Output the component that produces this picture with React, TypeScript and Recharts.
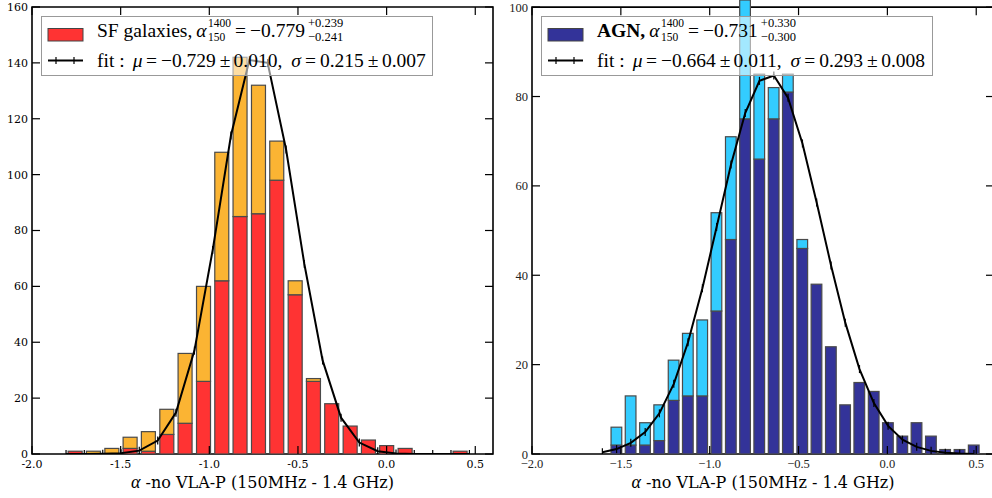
import React from 'react';
import { ComposedChart, Bar, Line, XAxis, YAxis, ReferenceArea, Legend } from 'recharts';

// ---------------- SF galaxies panel (left) ----------------
const sfBinCenters = [-1.756, -1.653, -1.549, -1.446, -1.343, -1.239, -1.136, -1.032, -0.929, -0.826, -0.722, -0.619, -0.515, -0.412, -0.309, -0.205, -0.102, 0.001, 0.105, 0.208, 0.312, 0.415];
const sfAllCounts = [1, 1, 2, 6, 8, 16, 36, 60, 108, 142, 132, 112, 62, 27, 18, 10, 5, 3, 2, 0, 0, 1];
const sfRedCounts = [1, 0, 0, 2, 1, 7, 11, 26, 62, 85, 86, 98, 57, 26, 18, 10, 5, 3, 2, 0, 0, 1];
const sfFitX = [-1.808, -1.705, -1.601, -1.498, -1.395, -1.291, -1.188, -1.084, -0.981, -0.878, -0.774, -0.671, -0.567, -0.464, -0.361, -0.257, -0.154, -0.05, 0.053, 0.156, 0.26, 0.363, 0.467];
const sfFitY = [0, 0, 0.1, 0.3, 1.2, 4.8, 14.8, 37, 73, 114, 141, 140, 109, 68, 33.5, 13, 4.1, 1, 0.2, 0, 0, 0, 0];

// ---------------- AGN panel (right) ----------------
const agnBinCenters = [-1.524, -1.444, -1.363, -1.283, -1.202, -1.122, -1.041, -0.961, -0.88, -0.8, -0.72, -0.639, -0.559, -0.478, -0.398, -0.317, -0.237, -0.157, -0.076, 0.004, 0.085, 0.165, 0.246, 0.326, 0.407, 0.487];
const agnAllCounts = [6, 13, 7, 11, 21, 27, 30, 54, 71, 106, 85, 82, 85, 48, 38, 24, 11, 16, 14, 7, 4, 7, 4, 1, 1, 2];
const agnNavyCounts = [2, 2, 2, 3, 12, 13, 13, 32, 48, 75, 66, 75, 81, 46, 38, 24, 11, 16, 14, 7, 4, 7, 4, 1, 1, 2];
const agnFitX = [-1.604, -1.524, -1.444, -1.363, -1.283, -1.202, -1.122, -1.041, -0.961, -0.88, -0.8, -0.72, -0.639, -0.559, -0.478, -0.398, -0.317, -0.237, -0.157, -0.076, 0.004, 0.085, 0.165, 0.246, 0.326, 0.407, 0.487];
const agnFitY = [0.4, 1.1, 2.5, 4.9, 9.1, 15.7, 25, 37.1, 50.8, 64.8, 76.3, 83.5, 84.7, 79.7, 69.5, 56.3, 42.2, 29.4, 19, 11.4, 6.3, 3.2, 1.6, 0.7, 0.3, 0.1, 0];

// ---------------- ticks & texts ----------------
const xTicks = [-2, -1.5, -1, -0.5, 0, 0.5];
const sfYTicks = [0, 20, 40, 60, 80, 100, 120, 140, 160];
const agnYTicks = [0, 20, 40, 60, 80, 100];
const xAxisTitle = ' -no VLA-P (150MHz - 1.4 GHz)';

const sfLegendText = { label: 'SF galaxies,', median: '\u22120.779', up: '+0.239', down: '\u22120.241', mu: '\u22120.729', muErr: '0.010,', sigma: '0.215', sigmaErr: '0.007' };
const agnLegendText = { label: 'AGN,', median: '\u22120.731', up: '+0.330', down: '\u22120.300', mu: '\u22120.664', muErr: '0.011,', sigma: '0.293', sigmaErr: '0.008' };

const RED = '#FF3333';
const ORANGE = '#FBB433';
const NAVY = '#333399';
const CYAN = '#33CCFF';

type Row = { x: number; part: number; extra: number; fit?: number };

function buildRows(centers: number[], all: number[], part: number[], fitX: number[], fitY: number[]): Row[] {
  const rows = new Map<number, Row>();
  centers.forEach((c, i) => rows.set(c, { x: c, part: part[i], extra: all[i] - part[i] }));
  fitX.forEach((fx, i) => {
    const r = rows.get(fx) ?? { x: fx, part: 0, extra: 0 };
    r.fit = fitY[i];
    rows.set(fx, r);
  });
  return Array.from(rows.values()).sort((a, b) => a.x - b.x);
}

const sfRows = buildRows(sfBinCenters, sfAllCounts, sfRedCounts, sfFitX, sfFitY);
const agnRows = buildRows(agnBinCenters, agnAllCounts, agnNavyCounts, agnFitX, agnFitY);

const barShape = (w: number) => (props: any) => {
  const { x, y, width, height, fill } = props;
  if (!(height > 0.01)) return <g />;
  const cx = x + width / 2;
  return <rect x={cx - w / 2} y={y} width={w} height={height} fill={fill} stroke="#4a4a4a" strokeWidth={1.2} />;
};

const tickDot = (props: any) => {
  const { cx, cy, index } = props;
  if (cx == null || cy == null || !isFinite(cy)) return <g key={`td${index}`} />;
  return <line key={`td${index}`} x1={cx} x2={cx} y1={cy - 4} y2={cy + 4} stroke="#000" strokeWidth={1.2} />;
};

const makeXTick = (top: number, minus: string, font: string, size: number, dy: number, color: string) => (props: any) => {
  const { x, y, payload } = props;
  const label = Number(payload.value).toFixed(1).replace('-', minus);
  return (
    <g>
      <line x1={x} x2={x} y1={y} y2={y - 8} stroke="#000" strokeWidth={1.2} />
      <line x1={x} x2={x} y1={top} y2={top + 8} stroke="#000" strokeWidth={1.2} />
      <text x={x} y={y + dy} textAnchor="middle" fontFamily={font} fontSize={size} fill={color}>{label}</text>
    </g>
  );
};

const makeYTick = (right: number, font: string, size: number, color: string) => (props: any) => {
  const { x, y, payload } = props;
  return (
    <g>
      <line x1={x} x2={x + 8} y1={y} y2={y} stroke="#000" strokeWidth={1.2} />
      <line x1={right} x2={right - 8} y1={y} y2={y} stroke="#000" strokeWidth={1.2} />
      <text x={x - 4} y={y} dy="0.36em" textAnchor="end" fontFamily={font} fontSize={size} fill={color}>{payload.value}</text>
    </g>
  );
};

const xLabel = (props: any) => {
  const vb = props.viewBox || {};
  return (
    <text x={vb.x + vb.width / 2} y={vb.y + 34} textAnchor="middle" fontFamily="DejaVu Serif" fontSize={16} fill="#000">
      <tspan fontFamily="Liberation Serif" fontStyle="italic" fontSize={18}>α</tspan>
      {xAxisTitle}
    </text>
  );
};

type LegendSpec = { patch: string; bold: boolean; t: typeof sfLegendText };

const MAIN = 'Liberation Serif';
const FS = 19.5;
const SS = 11.5; // alpha scripts
const SV = 12.5; // value scripts

const LegendBox = ({ s }: { s: LegendSpec }) => {
  const t = s.t;
  return (
    <svg width={392} height={60} style={{ display: 'block' }}>
      <rect x={0.5} y={0.5} width={391} height={59} fill="#fff" fillOpacity={0.55} stroke="#999" strokeWidth={1} />
      <rect x={7} y={12.5} width={35} height={12.5} fill={s.patch} stroke="#444" strokeWidth={1} />
      <line x1={7} x2={42} y1={44.5} y2={44.5} stroke="#000" strokeWidth={2} />
      <line x1={15} x2={15} y1={41} y2={48} stroke="#000" strokeWidth={1.2} />
      <line x1={33} x2={33} y1={41} y2={48} stroke="#000" strokeWidth={1.2} />
      <text x={56} y={21} fontFamily={MAIN} fontSize={FS} fill="#000">
        <tspan fontWeight={s.bold ? 700 : 400}>{t.label}</tspan>
        <tspan dx={4} fontStyle="italic">α</tspan>
        <tspan dx={1.5} dy={-10} fontSize={SS}>1400</tspan>
        <tspan dx={-2.0 * SS} dy={13.5} fontSize={SS}>150</tspan>
        <tspan dx={0.5 * SS + 4} dy={-3.5}>=</tspan>
        <tspan dx={4}>{t.median}</tspan>
        <tspan dx={3} dy={-9.8} fontSize={SV}>{t.up}</tspan>
        <tspan dx={-2.814 * SV} dy={13.6} fontSize={SV}>{t.down}</tspan>
      </text>
      <text x={56} y={50.5} fontFamily={MAIN} fontSize={FS} fill="#000">
        <tspan>fit :</tspan>
        <tspan dx={8} fontStyle="italic">μ</tspan>
        <tspan dx={3.5}>=</tspan>
        <tspan dx={4}>{t.mu}</tspan>
        <tspan dx={4}>±</tspan>
        <tspan dx={3}>{t.muErr}</tspan>
        <tspan dx={9} fontStyle="italic">σ</tspan>
        <tspan dx={4}>=</tspan>
        <tspan dx={4}>{t.sigma}</tspan>
        <tspan dx={4}>±</tspan>
        <tspan dx={3.5}>{t.sigmaErr}</tspan>
      </text>
    </svg>
  );
};

const sfSpec: LegendSpec = { patch: RED, bold: false, t: sfLegendText };
const agnSpec: LegendSpec = { patch: NAVY, bold: true, t: agnLegendText };

export default function App() {
  return (
    <div style={{ position: 'absolute', left: 0, top: 0, width: 992, height: 498, overflow: 'hidden', background: '#fff' }}>
      <div style={{ position: 'absolute', left: 0, top: 0 }}>
        <ComposedChart width={496} height={498} data={sfRows} margin={{ top: 7, right: 3, bottom: 0, left: 0 }}>
          <XAxis dataKey="x" type="number" domain={[-2, 0.6]} ticks={xTicks} allowDataOverflow axisLine={false}
            tickSize={0} tickMargin={0} height={44} interval={0}
            tick={makeXTick(7, '-', 'DejaVu Serif', 11, 14, '#000')} label={{ content: xLabel }} />
          <YAxis type="number" domain={[0, 160]} ticks={sfYTicks} allowDataOverflow axisLine={false}
            tickSize={0} tickMargin={0} width={32} interval={0}
            tick={makeYTick(493, 'DejaVu Serif', 11, '#000')} />
          <ReferenceArea x1={-2} x2={0.6} y1={0} y2={160} fill="none" stroke="#000" strokeWidth={1.6} />
          <Bar dataKey="part" stackId="s" fill={RED} shape={barShape(14)} isAnimationActive={false} />
          <Bar dataKey="extra" stackId="s" fill={ORANGE} shape={barShape(14)} isAnimationActive={false} />
          <Line dataKey="fit" stroke="#000" strokeWidth={2} dot={tickDot} activeDot={false} connectNulls isAnimationActive={false} />
          <Legend verticalAlign="middle" align="center" layout="horizontal"
            wrapperStyle={{ left: 41, top: 16, width: 392, height: 60 }}
            content={() => <LegendBox s={sfSpec} />} />
        </ComposedChart>
      </div>
      <div style={{ position: 'absolute', left: 496, top: 0 }}>
        <ComposedChart width={498} height={498} data={agnRows} margin={{ top: 0, right: 0, bottom: 0, left: 0 }}>
          <XAxis dataKey="x" type="number" domain={[-2, 0.6]} ticks={xTicks} allowDataOverflow axisLine={false}
            tickSize={0} tickMargin={0} height={44} interval={0}
            tick={makeXTick(7.15, '\u2212', 'Liberation Serif', 12.5, 13.5, '#222')} label={{ content: xLabel }} />
          <YAxis type="number" domain={[0, 101.6]} ticks={agnYTicks} allowDataOverflow axisLine={false}
            tickSize={0} tickMargin={0} width={36} interval={0}
            tick={makeYTick(498, 'Liberation Serif', 12.5, '#222')} />
          <ReferenceArea x1={-2} x2={0.6} y1={0} y2={100} fill="none" stroke="#000" strokeWidth={1.6} />
          <Bar dataKey="part" stackId="s" fill={NAVY} shape={barShape(10.7)} isAnimationActive={false} />
          <Bar dataKey="extra" stackId="s" fill={CYAN} shape={barShape(10.7)} isAnimationActive={false} />
          <Line dataKey="fit" stroke="#000" strokeWidth={2} dot={tickDot} activeDot={false} connectNulls isAnimationActive={false} />
          <Legend verticalAlign="middle" align="center" layout="horizontal"
            wrapperStyle={{ left: 45, top: 16, width: 392, height: 60 }}
            content={() => <LegendBox s={agnSpec} />} />
        </ComposedChart>
      </div>
    </div>
  );
}
